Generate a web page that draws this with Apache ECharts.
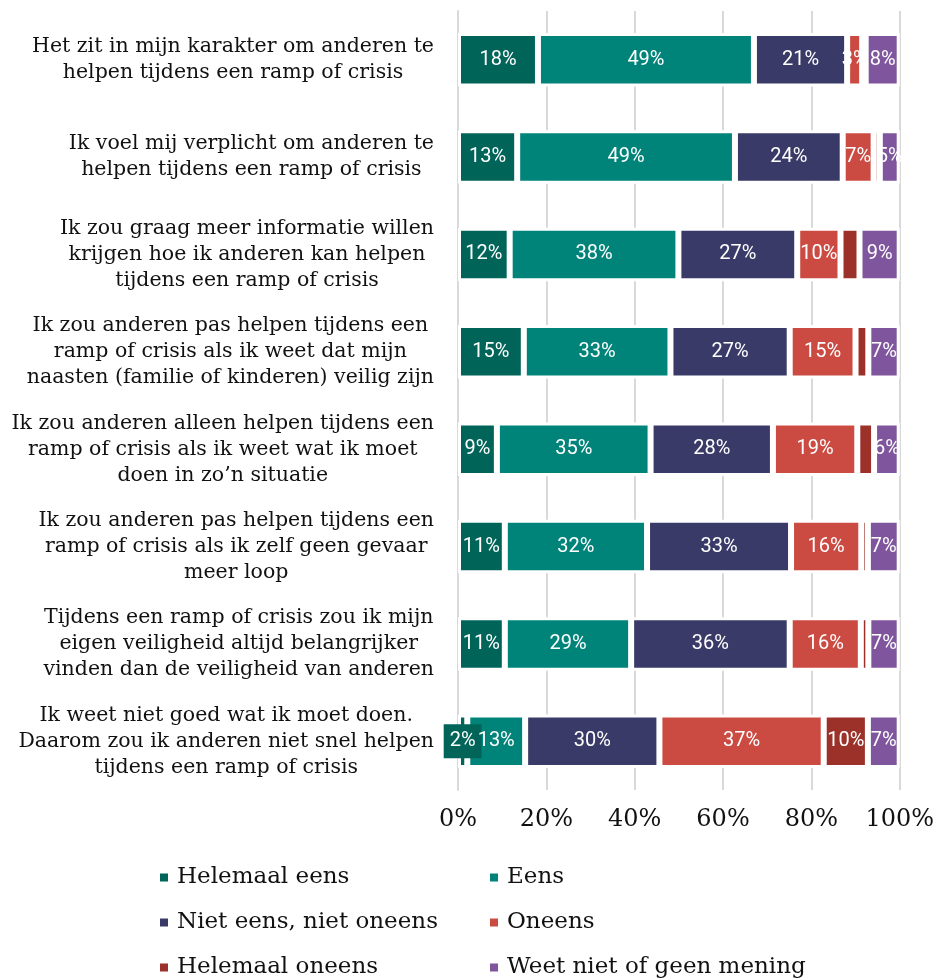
<!DOCTYPE html>
<html>
<head>
<meta charset="utf-8">
<script src="https://cdn.jsdelivr.net/npm/echarts@6/dist/echarts.min.js"></script>
<style>
html,body{margin:0;padding:0;background:#fff;}
#chart{width:937px;height:980px;}
</style>
</head>
<body>
<div id="chart"></div>
<script>
const categories = [
  "Het zit in mijn karakter om anderen te\nhelpen tijdens een ramp of crisis",
  "Ik voel mij verplicht om anderen te\nhelpen tijdens een ramp of crisis",
  "Ik zou graag meer informatie willen\nkrijgen hoe ik anderen kan helpen\ntijdens een ramp of crisis",
  "Ik zou anderen pas helpen tijdens een\nramp of crisis als ik weet dat mijn\nnaasten (familie of kinderen) veilig zijn",
  "Ik zou anderen alleen helpen tijdens een\nramp of crisis als ik weet wat ik moet\ndoen in zo\u2019n situatie",
  "Ik zou anderen pas helpen tijdens een\nramp of crisis als ik zelf geen gevaar\nmeer loop",
  "Tijdens een ramp of crisis zou ik mijn\neigen veiligheid altijd belangrijker\nvinden dan de veiligheid van anderen",
  "Ik weet niet goed wat ik moet doen.\nDaarom zou ik anderen niet snel helpen\ntijdens een ramp of crisis"
];
const seriesNames = ["Helemaal eens","Eens","Niet eens, niet oneens","Oneens","Helemaal oneens","Weet niet of geen mening"];
const helemaalEens   = [18.1, 13.4, 11.7, 14.9, 8.8, 10.6, 10.6, 2.1];
const eens           = [48.9, 49.3, 38.2, 33.2, 34.8, 32.2, 28.6, 13.1];
const nietEensNiet   = [21.1, 24.4, 26.9, 27.0, 27.7, 32.6, 35.9, 30.4];
const oneens         = [3.4, 7.0, 9.8, 14.9, 19.1, 15.9, 16.1, 37.2];
const helemaalOneens = [0.8, 1.4, 4.3, 2.9, 3.8, 1.5, 1.7, 10.0];
const weetNiet       = [7.7, 4.5, 9.1, 7.1, 5.8, 7.2, 7.1, 7.2];
const xTicks = [0, 20, 40, 60, 80, 100];

const colors = ["#006459", "#00847a", "#3a3a68", "#cb4b42", "#9b3129", "#7f559d"];
const seriesData = [helemaalEens, eens, nietEensNiet, oneens, helemaalOneens, weetNiet];

const chart = echarts.init(document.getElementById('chart'), null, {renderer: 'canvas'});

const series = seriesData.map((arr, si) => ({
  name: seriesNames[si],
  type: 'bar',
  stack: 'total',
  barWidth: '55%',
  data: arr.map((v, i) => {
    const d = {value: v};
    if (si === 0 && v < 4) {
      d.label = {backgroundColor: colors[0], padding: [8, 6, 6, 6]};
    }
    return d;
  }),
  itemStyle: {color: colors[si], borderColor: '#ffffff', borderWidth: 3},
  label: {
    show: true,
    position: 'inside',
    color: '#ffffff',
    fontFamily: 'Roboto',
    fontWeight: 400,
    fontSize: 20,
    formatter: p => (si === 4 && p.value < 5) ? '' : Math.round(p.value) + '%'
  },
  emphasis: {disabled: true}
}));

const legendText = {fontFamily: 'DejaVu Serif', fontSize: 23, color: '#111', lineHeight: 25, padding: [0, 0, 0, 3]};

chart.setOption({
  animation: false,
  grid: {left: 458, right: 36, top: 11, bottom: 190, containLabel: false},
  xAxis: {
    type: 'value',
    min: 0, max: 100, interval: 20,
    axisLabel: {
      formatter: v => xTicks.includes(v) ? v + '%' : '',
      fontFamily: 'DejaVu Serif', fontSize: 24, color: '#111', margin: 18
    },
    splitLine: {show: true, lineStyle: {color: '#d9d9d9', width: 2}},
    axisLine: {show: false},
    axisTick: {show: false}
  },
  yAxis: {
    type: 'category',
    inverse: true,
    data: categories,
    axisLine: {show: true, lineStyle: {color: '#d9d9d9', width: 2}},
    axisTick: {show: false},
    axisLabel: {
      margin: 24,
      align: 'right',
      formatter: v => v.split('\n').map(l => '{c|' + l + '}').join('\n'),
      rich: {
        c: {align: 'center', fontFamily: 'DejaVu Serif', fontSize: 20.5, lineHeight: 26, color: '#111'}
      }
    }
  },
  legend: [
    {
      orient: 'vertical', left: 158, top: 865, height: 140, padding: 0,
      itemWidth: 10, itemHeight: 10, itemGap: 20,
      icon: 'rect', textStyle: legendText,
      data: [seriesNames[0], seriesNames[2], seriesNames[4]]
    },
    {
      orient: 'vertical', left: 488, top: 865, height: 140, padding: 0,
      itemWidth: 10, itemHeight: 10, itemGap: 20,
      icon: 'rect', textStyle: legendText,
      data: [seriesNames[1], seriesNames[3], seriesNames[5]]
    }
  ],
  series: series
});
</script>
</body>
</html>
